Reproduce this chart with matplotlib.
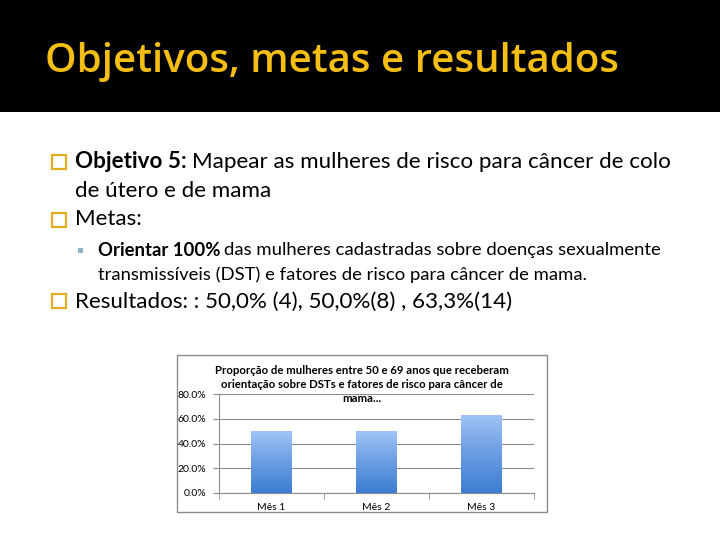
import numpy as np
import matplotlib
matplotlib.use("Agg")
import matplotlib.pyplot as plt
from matplotlib.patches import Rectangle

# ---- data ----
categories = ["Mês 1", "Mês 2", "Mês 3"]
values = [50.0, 50.0, 63.3]
yticks = [0, 20, 40, 60, 80]
ytick_labels = ["0.0%", "20.0%", "40.0%", "60.0%", "80.0%"]
slide_title = "Objetivos, metas e resultados"
chart_title_lines = ["Proporção de mulheres entre 50 e 69 anos que receberam",
                     "orientação sobre DSTs e fatores de risco para câncer de",
                     "mama..."]

W, H = 720, 540
fig = plt.figure(figsize=(7.2, 5.4), dpi=100)
fig.patch.set_facecolor("white")

def fx(x):
    return x / W

def fy(y):
    return 1 - y / H

GOLD = "#F5BE14"
BODY = "Lato"

# black header band
fig.patches.append(Rectangle((0, fy(112)), 1, 112 / H, transform=fig.transFigure,
                             facecolor="black", edgecolor="none", zorder=0))
fig.text(fx(45), fy(62), slide_title, color=GOLD, fontsize=29, family="Open Sans",
         fontweight="semibold", va="center", ha="left")

def bullet(x, y, size=14):
    fig.patches.append(Rectangle((fx(x), fy(y + size / 2)), size / W, size / H,
                                 transform=fig.transFigure, facecolor="none",
                                 edgecolor="#E0AE1E", linewidth=1.6, zorder=2))

fs = 16.1
bullet(52, 162)
t1 = fig.text(fx(75), fy(162), "Objetivo 5:", fontsize=fs, family=BODY,
              fontweight="bold", va="center", ha="left")
fig.canvas.draw()
bb = t1.get_window_extent()
fig.text(bb.x1 / W + 5 / W, fy(162), "Mapear as mulheres de risco para câncer de colo",
         fontsize=fs, family=BODY, va="center", ha="left")
fig.text(fx(75), fy(191), "de útero e de mama", fontsize=fs, family=BODY,
         va="center", ha="left")
bullet(52, 220)
fig.text(fx(75), fy(219), "Metas:", fontsize=fs, family=BODY, va="center", ha="left")

# sub-bullet
fig.patches.append(Rectangle((fx(78), fy(253)), 5 / W, 5 / H, transform=fig.transFigure,
                             facecolor="#8FB4C4", edgecolor="none"))
fs2 = 13.3
t2 = fig.text(fx(98), fy(250), "Orientar 100%", fontsize=fs2, family=BODY,
              fontweight="bold", va="center", ha="left")
fig.canvas.draw()
bb2 = t2.get_window_extent()
fig.text(bb2.x1 / W + 4 / W, fy(250), "das mulheres cadastradas sobre doenças sexualmente",
         fontsize=fs2, family=BODY, va="center", ha="left")
fig.text(fx(98), fy(275), "transmissíveis (DST) e fatores de risco para câncer de mama.",
         fontsize=fs2, family=BODY, va="center", ha="left")

bullet(52, 301)
fig.text(fx(75), fy(302), "Resultados: : 50,0% (4), 50,0%(8) , 63,3%(14)",
         fontsize=fs, family=BODY, va="center", ha="left")

# chart frame
fig.patches.append(Rectangle((fx(177), fy(512)), (547 - 177) / W, (512 - 355) / H,
                             transform=fig.transFigure, facecolor="white",
                             edgecolor="#8C8C8C", linewidth=1.0, zorder=1))

ax = fig.add_axes([fx(219), fy(493), (534 - 219) / W, (493 - 394) / H])
ax.set_zorder(3)
ax.patch.set_alpha(0)
x = np.arange(len(categories))
bars = ax.bar(x, values, width=0.39, color="none", edgecolor="none", zorder=3)
grad = np.linspace(0, 1, 256).reshape(-1, 1)
cmap = matplotlib.colors.LinearSegmentedColormap.from_list(
    "g", ["#3C7DD2", "#6A9DE3", "#A2C4F6"])
for b in bars:
    x0, y0 = b.get_x(), b.get_y()
    im = ax.imshow(grad, extent=[x0, x0 + b.get_width(), y0, y0 + b.get_height()],
                   origin="lower", cmap=cmap, aspect="auto", zorder=3)
    im.set_clip_path(b)

ax.set_xlim(-0.5, len(categories) - 0.5)
ax.set_ylim(0, 80)
ax.set_yticks(yticks)
ax.set_yticklabels(ytick_labels, fontsize=7.5, family="Lato")
ax.set_xticks(x)
ax.set_xticklabels(categories, fontsize=7.5, family="Lato")
ax.set_xticks(np.arange(len(categories) + 1) - 0.5, minor=True)
ax.tick_params(axis="x", which="major", length=0, pad=7)
ax.tick_params(axis="x", which="minor", length=4, color="#8C8C8C", direction="out")
ax.tick_params(axis="y", length=4, color="#8C8C8C", pad=5)
ax.grid(axis="y", color="#8C8C8C", linewidth=0.8)
ax.set_axisbelow(True)
for s in ["top", "right"]:
    ax.spines[s].set_visible(False)
for s in ["left", "bottom"]:
    ax.spines[s].set_color("#8C8C8C")

for line, yy in zip(chart_title_lines, [370, 385, 399]):
    fig.text(fx(362), fy(yy), line, fontsize=8.2, fontweight="bold",
             family="Lato", ha="center", va="center", zorder=5,
             bbox=dict(facecolor="none", edgecolor="none", pad=0))

fig.savefig("out.png", dpi=100)
